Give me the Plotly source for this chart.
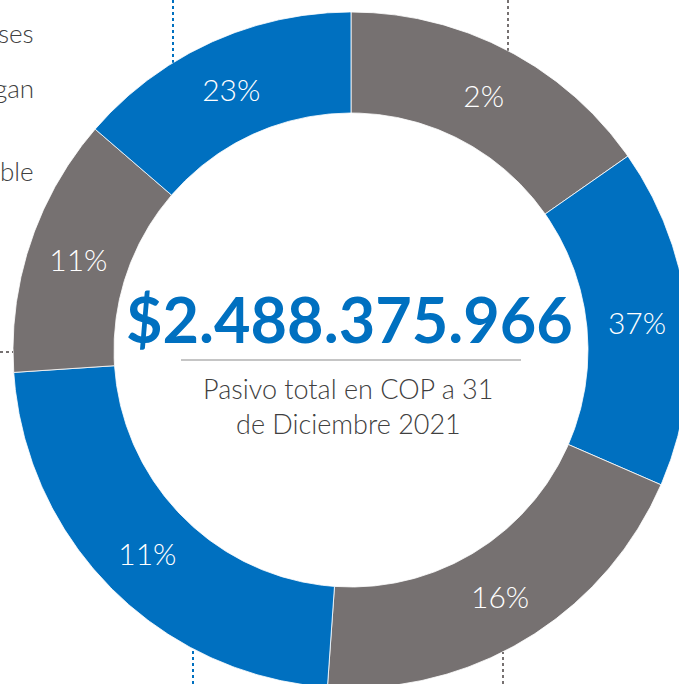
import numpy as np
import plotly.graph_objects as go

# ---- data ----
# arc size of each ring segment, clockwise from 12 o'clock (degrees of the circle)
slice_sizes = [55.0, 58.5, 70.5, 82.2, 44.6, 49.2]
slice_labels = ["2%", "37%", "16%", "11%", "11%", "23%"]
slice_colors = ["#767171", "#0070C0", "#767171", "#0070C0", "#767171", "#0070C0"]
total_value = "$2.488.375.966"
subtitle_lines = ["Pasivo total en COP a 31", "de Diciembre 2021"]
left_fragments = ["ses", "gan", "ble"]

# ---- layout geometry ----
W, H = 679, 684
CX, CY = 351, 350
R_OUT, R_IN = 338, 237

fig = go.Figure()

total = sum(slice_sizes)
start = 0.0
for size, lab, col in zip(slice_sizes, slice_labels, slice_colors):
    a0 = start / total * 2 * np.pi
    a1 = (start + size) / total * 2 * np.pi
    t = np.linspace(a0, a1, 200)
    xs = np.concatenate([CX + R_OUT * np.sin(t), CX + R_IN * np.sin(t[::-1])])
    ys = np.concatenate([CY - R_OUT * np.cos(t), CY - R_IN * np.cos(t[::-1])])
    xs = np.append(xs, xs[0])
    ys = np.append(ys, ys[0])
    fig.add_trace(go.Scatter(x=xs, y=ys, mode="lines", fill="toself",
                             fillcolor=col, line=dict(color="rgba(255,255,255,0.8)", width=1),
                             hoverinfo="skip", showlegend=False))
    am = (a0 + a1) / 2
    rm = (R_OUT + R_IN) / 2
    fig.add_trace(go.Scatter(x=[CX + rm * np.sin(am)], y=[CY - rm * np.cos(am) + 5],
                             mode="text", text=[lab],
                             textfont=dict(family="Lato", size=30, color="white", weight=300),
                             hoverinfo="skip", showlegend=False))
    start += size

# leader lines (dotted) touching the ring
leaders = [
    (173, -1, "#0070C0"),
    (508, -1, "#767171"),
    (193, 1, "#0070C0"),
    (503, 1, "#767171"),
]
for lx, side, col in leaders:
    yc = CY + side * np.sqrt(R_OUT**2 - (lx - CX) ** 2)
    yend = 0 if side < 0 else H
    fig.add_shape(type="line", x0=lx, x1=lx, y0=yend, y1=yc,
                  line=dict(color=col, width=2, dash="dot"))
xl = CX - np.sqrt(R_OUT**2 - (352 - CY) ** 2)
fig.add_shape(type="line", x0=0, x1=xl, y0=352, y1=352,
              line=dict(color="#767171", width=2, dash="dot"))

# center text
fig.add_annotation(x=349, y=318, text=f"<b>{total_value}</b>", showarrow=False,
                   font=dict(family="Lato", size=63, color="#0070C0", weight=700),
                   xanchor="center", yanchor="middle")
fig.add_shape(type="line", x0=181, x1=521, y0=360, y1=360,
              line=dict(color="#8c8c8c", width=1.2))
fig.add_annotation(x=348, y=388, text=subtitle_lines[0], showarrow=False,
                   font=dict(family="Lato", size=27, color="#404040", weight=300),
                   xanchor="center", yanchor="middle")
fig.add_annotation(x=348, y=423, text=subtitle_lines[1], showarrow=False,
                   font=dict(family="Lato", size=27, color="#404040", weight=300),
                   xanchor="center", yanchor="middle")

# cut-off fragments at the left edge
for txt, yy in zip(left_fragments, [33, 88, 171]):
    fig.add_annotation(x=36, y=yy, text=txt, showarrow=False,
                       font=dict(family="Lato", size=26, color="#404040", weight=300),
                       xanchor="right", yanchor="middle")

fig.update_layout(
    width=W, height=H,
    margin=dict(l=0, r=0, t=0, b=0),
    paper_bgcolor="white", plot_bgcolor="white",
    xaxis=dict(range=[0, W], visible=False, fixedrange=True),
    yaxis=dict(range=[H, 0], visible=False, fixedrange=True),
    showlegend=False,
)

fig.write_html("out.html", config={"displayModeBar": False},
               post_script="document.body.style.margin='0px';")
